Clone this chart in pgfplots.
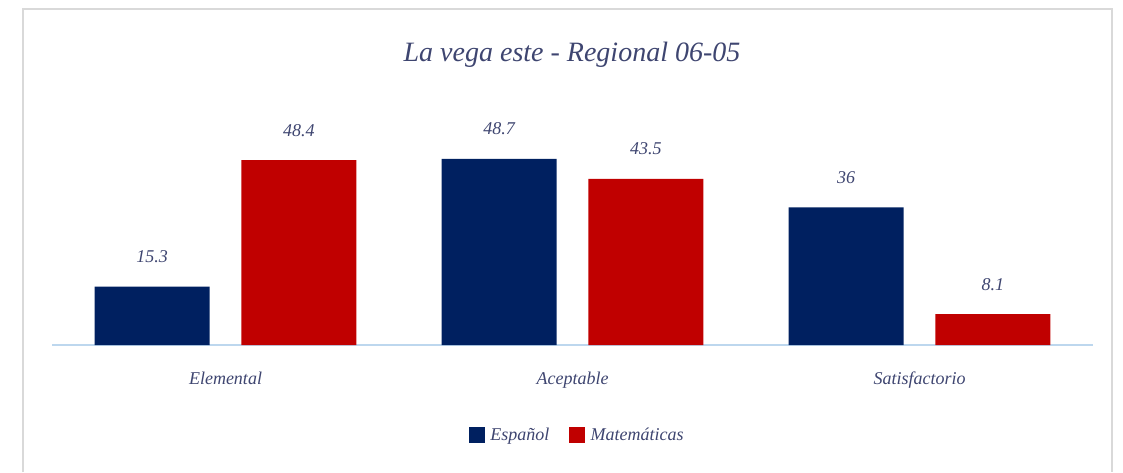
\documentclass[border=0pt]{standalone}
\usepackage{pgfplots}
\pgfplotsset{compat=1.18}
\usepackage{fontspec}
\setmainfont{Liberation Serif}
\definecolor{espanol}{RGB}{0,32,96}
\definecolor{matem}{RGB}{192,0,0}
\definecolor{txt}{RGB}{62,69,112}
\definecolor{frame}{RGB}{217,217,217}
\definecolor{baseline}{RGB}{189,215,238}

\begin{document}
\begin{tikzpicture}
\useasboundingbox (0,0) rectangle (842.25pt,354pt);
% chart frame
\draw[frame, line width=1.5pt] (16.9pt,0) -- (16.9pt,346.9pt) -- (834pt,346.9pt) -- (834pt,0);
% title
\node[txt, font=\itshape\fontsize{21}{25}\selectfont] at (429pt,313pt) {La vega este - Regional 06-05};
\begin{axis}[
    at={(39pt,95.25pt)}, anchor=south west,
    scale only axis,
    width=780.75pt, height=171.9pt,
    xmin=-0.5, xmax=2.5,
    ymin=0, ymax=60,
    axis y line=none,
    axis x line*=bottom,
    x axis line style={draw=baseline, line width=1.2pt, -},
    xtick={0,1,2},
    xticklabels={Elemental, Aceptable, Satisfactorio},
    major tick length=0pt,
    xticklabel style={txt, font=\itshape\fontsize{13.5}{15}\selectfont, anchor=base, yshift=-29.25pt},
    ybar,
    bar width=86.25pt,
    nodes near coords,
    /pgf/number format/assume math mode=true,
    every node near coord/.append style={txt, font=\itshape\fontsize{13.5}{15}\selectfont, anchor=base, yshift=18pt},
    legend style={at={(0.505,-0.393)}, anchor=center, draw=none, fill=none,
        font=\itshape\fontsize{13.5}{15}\selectfont, text=txt, legend columns=2,
        /tikz/every odd column/.append style={column sep=2pt},
        /tikz/every even column/.append style={column sep=13pt}},
    legend image code/.code={\fill[#1] (0pt,-6pt) rectangle (12pt,6pt);},
  ]
  % Español
  \addplot[fill=espanol, draw=none, bar shift=-55.1pt] coordinates {
    (0,15.3) (1,48.7) (2,36)
  };
  % Matemáticas
  \addplot[fill=matem, draw=none, bar shift=55.1pt] coordinates {
    (0,48.4) (1,43.5) (2,8.1)
  };
  \legend{Español, Matemáticas}
\end{axis}
\end{tikzpicture}
\end{document}
